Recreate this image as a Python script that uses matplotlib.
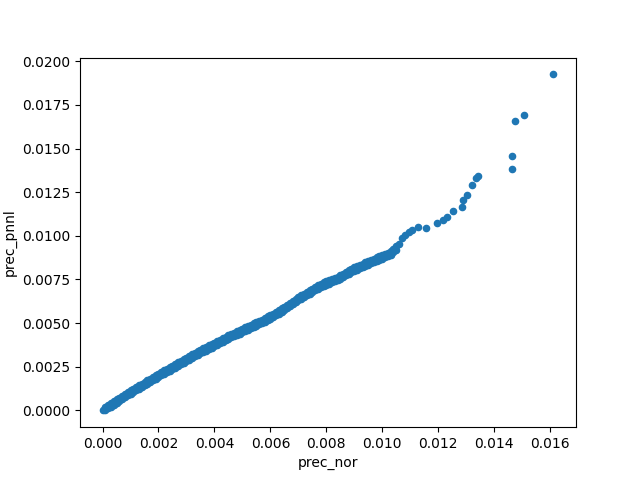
import pandas as pd
import matplotlib
matplotlib.use("Agg")
import matplotlib.pyplot as plt

# values
# dense band: lower/upper edges of the trail, then the sparse tail
prec_nor = [
    0.0000, 0.0001, 0.0002, 0.0003, 0.0004, 0.0005, 0.0006, 0.0007, 0.0008, 0.0009,
    0.0010, 0.0011, 0.0012, 0.0013, 0.0014, 0.0015, 0.0016, 0.0017, 0.0018, 0.0019,
    0.0020, 0.0021, 0.0022, 0.0023, 0.0024, 0.0025, 0.0026, 0.0027, 0.0028, 0.0029,
    0.0030, 0.0031, 0.0032, 0.0033, 0.0034, 0.0035, 0.0036, 0.0037, 0.0038, 0.0039,
    0.0040, 0.0041, 0.0042, 0.0043, 0.0044, 0.0045, 0.0046, 0.0047, 0.0048, 0.0049,
    0.0050, 0.0051, 0.0052, 0.0053, 0.0054, 0.0055, 0.0056, 0.0057, 0.0058, 0.0059,
    0.0060, 0.0061, 0.0062, 0.0063, 0.0064, 0.0065, 0.0066, 0.0067, 0.0068, 0.0069,
    0.0070, 0.0071, 0.0072, 0.0073, 0.0074, 0.0075, 0.0076, 0.0077, 0.0078, 0.0079,
    0.0080, 0.0081, 0.0082, 0.0083, 0.0084, 0.0085, 0.0086, 0.0087, 0.0088, 0.0089,
    0.0090, 0.0091, 0.0092, 0.0093, 0.0094, 0.0095, 0.0096, 0.0097, 0.0098, 0.0099,
    0.0100, 0.0101, 0.0102, 0.0103, 0.0104, 0.0105, 0.0106, 0.0107,
    0.0001, 0.0002, 0.0003, 0.0004, 0.0005, 0.0006, 0.0007, 0.0008, 0.0009,
    0.0010, 0.0011, 0.0012, 0.0013, 0.0014, 0.0015, 0.0016, 0.0017, 0.0018, 0.0019,
    0.0020, 0.0021, 0.0022, 0.0023, 0.0024, 0.0025, 0.0026, 0.0027, 0.0028, 0.0029,
    0.0030, 0.0031, 0.0032, 0.0033, 0.0034, 0.0035, 0.0036, 0.0037, 0.0038, 0.0039,
    0.0040, 0.0041, 0.0042, 0.0043, 0.0044, 0.0045, 0.0046, 0.0047, 0.0048, 0.0049,
    0.0050, 0.0051, 0.0052, 0.0053, 0.0054, 0.0055, 0.0056, 0.0057, 0.0058, 0.0059,
    0.0060, 0.0061, 0.0062, 0.0063, 0.0064, 0.0065, 0.0066, 0.0067, 0.0068, 0.0069,
    0.0070, 0.0071, 0.0072, 0.0073, 0.0074, 0.0075, 0.0076, 0.0077, 0.0078, 0.0079,
    0.0080, 0.0081, 0.0082, 0.0083, 0.0084, 0.0085, 0.0086, 0.0087, 0.0088, 0.0089,
    0.0090, 0.0091, 0.0092, 0.0093, 0.0094, 0.0095, 0.0096, 0.0097, 0.0098, 0.0099,
    0.0100, 0.0101, 0.0102, 0.0103, 0.0104, 0.0105,
    0.01081, 0.01095, 0.01105, 0.01128, 0.01158, 0.01194, 0.01218, 0.01230,
    0.01254, 0.01286, 0.01290, 0.01302, 0.01322, 0.01335, 0.01342,
    0.01465, 0.01465, 0.01474, 0.01507, 0.01612,
]
prec_pnnl = [
    0.0, 0.000206, 0.000112, 0.000418, 0.000324, 0.00063, 0.000536, 0.000842, 0.000748, 0.00106,
    0.000955, 0.00125, 0.001145, 0.00144, 0.001335, 0.00163, 0.001525, 0.00182, 0.001715, 0.00201,
    0.001905, 0.0022, 0.00209, 0.00238, 0.00227, 0.00256, 0.00245, 0.00275, 0.00264, 0.00293,
    0.00282, 0.00311, 0.00301, 0.0033, 0.00318, 0.00347, 0.00335, 0.00363, 0.00352, 0.0038,
    0.00368, 0.00397, 0.00385, 0.00413, 0.00402, 0.0043, 0.00418, 0.00445, 0.00433, 0.0046,
    0.00448, 0.00475, 0.00463, 0.0049, 0.00478, 0.00505, 0.00493, 0.0052, 0.00509, 0.00538,
    0.00526, 0.00555, 0.00544, 0.00573, 0.00564, 0.00595, 0.00586, 0.00617, 0.00608, 0.00639,
    0.0063, 0.0066, 0.00649, 0.00679, 0.00668, 0.00698, 0.00687, 0.00717, 0.00706, 0.00733,
    0.0072, 0.00747, 0.00733, 0.0076, 0.00747, 0.00774, 0.00764, 0.00793, 0.00783, 0.00812,
    0.00799, 0.00826, 0.00814, 0.00841, 0.00828, 0.00855, 0.00843, 0.0087, 0.00857, 0.00884,
    0.0087, 0.00897, 0.00884, 0.00911, 0.00905, 0.0094, 0.00955, 0.0099,
    0.000006, 0.000312, 0.000218, 0.000524, 0.00043, 0.000736, 0.000642, 0.000948, 0.00086,
    0.001155, 0.00105, 0.001345, 0.00124, 0.001535, 0.00143, 0.001725, 0.00162, 0.001915, 0.00181,
    0.002105, 0.002, 0.00229, 0.00218, 0.00247, 0.00236, 0.00265, 0.00255, 0.00284, 0.00273,
    0.00302, 0.00291, 0.00321, 0.0031, 0.00338, 0.00327, 0.00355, 0.00343, 0.00372, 0.0036,
    0.00388, 0.00377, 0.00405, 0.00393, 0.00422, 0.0041, 0.00438, 0.00425, 0.00453, 0.0044,
    0.00468, 0.00455, 0.00483, 0.0047, 0.00498, 0.00485, 0.00513, 0.005, 0.00529, 0.00518,
    0.00546, 0.00535, 0.00564, 0.00553, 0.00584, 0.00575, 0.00606, 0.00597, 0.00628, 0.00619,
    0.0065, 0.0064, 0.00669, 0.00659, 0.00688, 0.00678, 0.00707, 0.00697, 0.00726, 0.00713,
    0.0074, 0.00727, 0.00753, 0.0074, 0.00767, 0.00754, 0.00784, 0.00773, 0.00803, 0.00792,
    0.00819, 0.00806, 0.00834, 0.00821, 0.00848, 0.00835, 0.00863, 0.0085, 0.00877, 0.00864,
    0.0089, 0.00877, 0.00904, 0.00891, 0.00925, 0.0092,
    0.01003, 0.0102, 0.01032, 0.0105, 0.01047, 0.01076, 0.01089, 0.0111,
    0.01144, 0.01164, 0.01203, 0.01232, 0.01289, 0.0133, 0.01342,
    0.0146, 0.01381, 0.0166, 0.0169, 0.01925,
]

df = pd.DataFrame({"prec_nor": prec_nor, "prec_pnnl": prec_pnnl})

fig, ax = plt.subplots(figsize=(6.4, 4.8), dpi=100)
df.plot.scatter(x="prec_nor", y="prec_pnnl", ax=ax)

plt.savefig("out.png")
